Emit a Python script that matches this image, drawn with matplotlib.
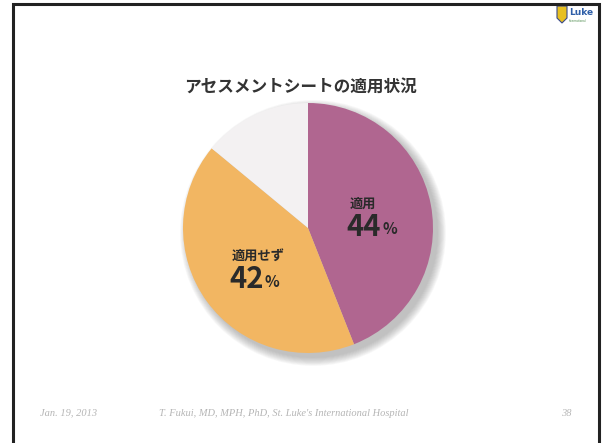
import matplotlib.pyplot as plt
from matplotlib.patches import Circle, Polygon

plt.rcParams['font.family'] = ['Noto Sans CJK JP', 'DejaVu Sans']

# 適用状況の内訳 (%)
labels = ['適用', '適用せず', 'その他']
values = [44, 42, 14]
colors = ['#b06690', '#f2b662', '#f3f1f2']

title = 'アセスメントシートの適用状況'
footer_date = 'Jan. 19, 2013'
footer_author = "T. Fukui, MD, MPH, PhD, St. Luke's International Hospital"
footer_page = '38'

W, H = 605, 443
fig = plt.figure(figsize=(W / 100, H / 100), dpi=100)

# 背景（スライド枠）用の座標系: ピクセル単位、上が0
bg = fig.add_axes([0, 0, 1, 1])
bg.set_xlim(0, W)
bg.set_ylim(H, 0)
bg.axis('off')
bg.plot([13, 13, 599, 599], [H + 5, 4, 4, H + 5], color='#222222', lw=2.2,
        solid_joinstyle='miter')

bg.text(300, 87, title, ha='center', va='center', fontsize=12,
        fontweight='bold', color='#333333')

foot = dict(family='Liberation Serif', style='italic', fontsize=7.5,
            color='#b5b5b5', va='center')
bg.text(40, 413, footer_date, ha='left', **foot)
bg.text(284, 413, footer_author, ha='center', **foot)
bg.text(566, 413, footer_page, ha='center', **foot)

# ロゴ（簡略）
bg.add_patch(Polygon([[557, 6], [567, 6], [567, 18], [562, 23], [557, 18]],
                     closed=True, facecolor='#e8c020', edgecolor='#3a4a8a', lw=0.8))
bg.text(569, 12, 'Luke', fontsize=6.5, fontweight='bold', color='#2f5fa8',
        family='DejaVu Sans', va='center', ha='left')
bg.text(569, 21, 'International', fontsize=2, color='#4a8a4a',
        family='DejaVu Sans', va='center', ha='left')

# 円グラフ（中心 cx, cy、半径 r ピクセル）
cx, cy, r = 308, 228, 125
m = 1.12
ax = fig.add_axes([(cx - r * m) / W, (H - cy - r * m) / H,
                   2 * r * m / W, 2 * r * m / H])
ax.axis('off')

# 影
for i in range(10):
    ax.add_patch(Circle((0.04, -0.04), 1.0 + 0.007 * i, color='#707070',
                        alpha=0.05, lw=0, zorder=0))

wedges, _ = ax.pie(values, colors=colors, startangle=90, counterclock=False,
                   radius=1.0, wedgeprops=dict(linewidth=0))
for w in wedges:
    w.set_zorder(2)
ax.set_xlim(-m, m)
ax.set_ylim(-m, m)
ax.set_aspect('equal')

txt = dict(color='#2a2a2a', fontweight='bold', zorder=5)
ax.text(0.33, 0.19, labels[0], fontsize=9.5, ha='left', va='center', **txt)
ax.text(0.31, 0.01, f'{values[0]}', fontsize=21, ha='left', va='center', **txt)
ax.text(0.595, -0.01, '%', fontsize=11, ha='left', va='center', **txt)

ax.text(-0.61, -0.23, labels[1], fontsize=9.5, ha='left', va='center', **txt)
ax.text(-0.63, -0.41, f'{values[1]}', fontsize=21, ha='left', va='center', **txt)
ax.text(-0.345, -0.43, '%', fontsize=11, ha='left', va='center', **txt)

fig.savefig('out.png', dpi=100)
